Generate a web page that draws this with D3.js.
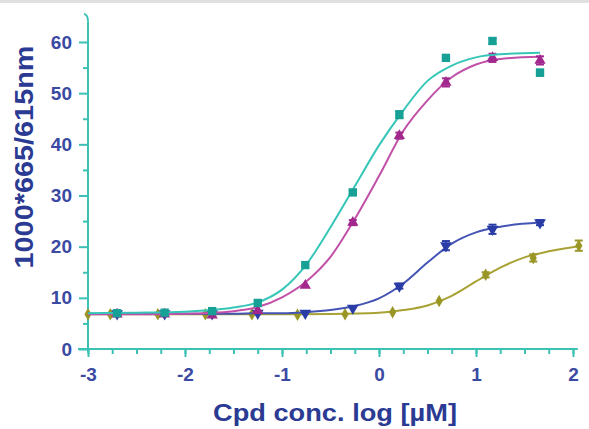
<!DOCTYPE html>
<html>
<head>
<meta charset="utf-8">
<script src="https://cdn.jsdelivr.net/npm/d3@7"></script>
<style>
    body { margin: 0; background: #fff; }
    svg { display: block; }
    text { font-family: "Liberation Sans", Arial, sans-serif; }
</style>
</head>
<body>
<div class="chart"></div>
<script>
// log concentrations (µM) of the dilution series
const concLog = [-2.70, -2.21, -1.72, -1.25, -0.76, -0.27, 0.21, 0.69, 1.17, 1.66];
const oliveConc = [-3.0, -2.77, -2.28, -1.79, -1.31, -0.84, -0.35, 0.14, 0.62, 1.10, 1.59, 2.06];

// measured points (1000*665/615nm)
const tealValues = [7.0, 7.1, 7.4, 9.0, 16.4, 30.6, 45.8, 56.9, 60.2, 54.0];
const tealErr = [0, 0, 0, 0, 0, 0.4, 0.7, 0, 0.5, 0.6];
const magentaValues = [6.8, 6.8, 6.6, 7.5, 12.4, 24.7, 41.7, 52.1, 56.9, 56.4];
const magentaErr = [0, 0, 0, 0, 0, 0.5, 0.6, 0.8, 0.8, 0.8];
const blueValues = [6.9, 6.9, 6.9, 7.0, 7.0, 8.0, 12.3, 20.2, 23.4, 24.7];
const blueErr = [0, 0, 0, 0, 0, 0, 0.5, 0.9, 0.9, 0.5];
const oliveValues = [6.8, 6.8, 6.8, 6.8, 6.8, 6.7, 6.8, 7.2, 9.4, 14.5, 17.8, 20.2];
const oliveErr = [0, 0, 0, 0, 0, 0, 0, 0, 0, 0.5, 0.7, 1.0];

// fitted curves
const fitX = [-3, -2.5, -2, -1.5, -1.25, -1, -0.75, -0.5, -0.25, 0, 0.25, 0.5, 0.75, 1, 1.25, 1.66];
const tealFit = [7.0, 7.1, 7.3, 8.1, 9.1, 11.6, 16.5, 23.8, 31.8, 39.8, 46.6, 52.4, 55.4, 57.0, 57.6, 57.9];
const magentaFit = [6.8, 6.8, 6.9, 7.4, 8.2, 10.1, 13.2, 18.0, 25.4, 33.8, 42.6, 48.6, 53.1, 55.6, 56.7, 57.1];
const blueFit = [6.9, 6.9, 6.9, 6.9, 7.0, 7.0, 7.2, 7.6, 8.4, 9.9, 12.8, 16.9, 20.6, 22.8, 23.9, 24.7];
const oliveFitX = [-3, -2, -1, -0.5, 0, 0.25, 0.5, 0.75, 1, 1.25, 1.5, 1.75, 2.06];
const oliveFit = [6.8, 6.8, 6.8, 6.85, 7.1, 7.6, 8.5, 10.4, 13.2, 15.9, 17.9, 19.1, 20.1];

// axis ticks
const xTicks = [-3, -2, -1, 0, 1, 2];
const xTickLabels = ["-3", "-2", "-1", "0", "1", "2"];
const xMinorTicks = d3.range(-3, 2.01, 0.25);
const yTicks = [0, 10, 20, 30, 40, 50, 60];
const yTickLabels = ["0", "10", "20", "30", "40", "50", "60"];
const yMinorTicks = [5, 15, 25, 35, 45, 55];

const xTitle = "Cpd conc. log [µM]";
const yTitle = "1000*665/615nm";

const WIDTH = 589, HEIGHT = 429;
const AXIS_COLOR = "#3cc2b4";
const TEXT_COLOR = "#2b3a92";

const svg = d3.select(".chart").append("svg")
    .attr("width", WIDTH)
    .attr("height", HEIGHT);

svg.append("rect").attr("width", WIDTH).attr("height", HEIGHT).attr("fill", "#fff");
// faint grey strip at the top edge
svg.append("rect").attr("width", WIDTH).attr("height", 3).attr("fill", "#e0e0e0");

const xScale = d3.scaleLinear().domain([-3, 2]).range([88, 573]);
const yScale = d3.scaleLinear().domain([0, 60]).range([349, 42]);

// axes
const yAxis = svg.append("g")
    .attr("transform", `translate(${xScale(-3)},0)`)
    .call(d3.axisLeft(yScale).tickValues(yTicks).tickSize(9).tickPadding(7)
        .tickFormat((d, i) => yTickLabels[i]));
const yMinor = svg.append("g")
    .attr("transform", `translate(${xScale(-3)},0)`)
    .call(d3.axisLeft(yScale).tickValues(yMinorTicks).tickSize(5).tickFormat(""));

const xAxis = svg.append("g")
    .attr("transform", `translate(0,${yScale(0)})`)
    .call(d3.axisBottom(xScale).tickValues(xTicks).tickSize(8).tickPadding(11)
        .tickFormat((d, i) => xTickLabels[i]));
const xMinor = svg.append("g")
    .attr("transform", `translate(0,${yScale(0)})`)
    .call(d3.axisBottom(xScale).tickValues(xMinorTicks).tickSize(5).tickFormat(""));

[yAxis, yMinor, xAxis, xMinor].forEach(g => {
    g.select(".domain").remove();
    g.selectAll(".tick line").attr("stroke", AXIS_COLOR).attr("stroke-width", 2);
    g.selectAll(".tick text")
        .attr("fill", "#3a4aa2")
        .attr("font-size", 19)
        .attr("font-weight", "bold");
});

// axis lines
svg.append("line")
    .attr("x1", xScale(-3)).attr("x2", xScale(-3))
    .attr("y1", yScale(64)).attr("y2", yScale(-0.7))
    .attr("stroke", AXIS_COLOR).attr("stroke-width", 2);
svg.append("path")
    .attr("d", `M${xScale(-3)},${yScale(64)} Q${xScale(-3)},${yScale(65.3)} ${xScale(-3) - 4},${yScale(65.5)}`)
    .attr("fill", "none").attr("stroke", AXIS_COLOR).attr("stroke-width", 2);
svg.append("line")
    .attr("x1", xScale(-3) - 10).attr("x2", xScale(2.05))
    .attr("y1", yScale(0)).attr("y2", yScale(0))
    .attr("stroke", AXIS_COLOR).attr("stroke-width", 2);

// titles
svg.append("text")
    .attr("x", 335).attr("y", 421)
    .attr("text-anchor", "middle")
    .attr("font-size", 24).attr("font-weight", "bold")
    .attr("fill", TEXT_COLOR)
    .attr("textLength", 244).attr("lengthAdjust", "spacingAndGlyphs")
    .text(xTitle);

svg.append("text")
    .attr("transform", "translate(33,157) rotate(-90)")
    .attr("text-anchor", "middle")
    .attr("font-size", 26).attr("font-weight", "bold")
    .attr("fill", TEXT_COLOR)
    .attr("textLength", 223).attr("lengthAdjust", "spacingAndGlyphs")
    .text(yTitle);

// series
const series = [
    { name: "olive", x: oliveConc, y: oliveValues, err: oliveErr, fitX: oliveFitX, fit: oliveFit,
      line: "#a8a234", marker: "#9a9626", symbol: d3.symbolDiamond, size: 45, rotate: 0 },
    { name: "blue", x: concLog, y: blueValues, err: blueErr, fitX: fitX, fit: blueFit,
      line: "#4454b4", marker: "#2a3ca6", symbol: d3.symbolTriangle, size: 60, rotate: 180 },
    { name: "magenta", x: concLog, y: magentaValues, err: magentaErr, fitX: fitX, fit: magentaFit,
      line: "#c050a8", marker: "#a2288e", symbol: d3.symbolTriangle, size: 55, rotate: 0 },
    { name: "teal", x: concLog, y: tealValues, err: tealErr, fitX: fitX, fit: tealFit,
      line: "#36c6b8", marker: "#17a096", symbol: d3.symbolSquare, size: 70, rotate: 0 }
];

const line = d3.line()
    .x(d => xScale(d[0]))
    .y(d => yScale(d[1]))
    .curve(d3.curveMonotoneX);

series.forEach(s => {
    const g = svg.append("g").attr("class", s.name);

    g.append("path")
        .datum(s.fitX.map((x, i) => [x, s.fit[i]]))
        .attr("fill", "none")
        .attr("stroke", s.line)
        .attr("stroke-width", 2)
        .attr("d", line);

    const pts = s.x.map((x, i) => ({ x: x, y: s.y[i], e: s.err[i] }));

    // error bars
    const eb = g.selectAll(".err").data(pts.filter(p => p.e > 0)).enter().append("g").attr("class", "err");
    eb.append("line")
        .attr("x1", d => xScale(d.x)).attr("x2", d => xScale(d.x))
        .attr("y1", d => yScale(d.y - d.e)).attr("y2", d => yScale(d.y + d.e))
        .attr("stroke", s.marker).attr("stroke-width", 1.5);
    [-1, 1].forEach(sign => {
        eb.append("line")
            .attr("x1", d => xScale(d.x) - 4).attr("x2", d => xScale(d.x) + 4)
            .attr("y1", d => yScale(d.y + sign * d.e)).attr("y2", d => yScale(d.y + sign * d.e))
            .attr("stroke", s.marker).attr("stroke-width", 2);
    });

    g.selectAll(".dot")
        .data(pts)
        .enter().append("path")
        .attr("class", "dot")
        .attr("d", d3.symbol().type(s.symbol).size(s.size))
        .attr("transform", d => `translate(${xScale(d.x)},${yScale(d.y)}) rotate(${s.rotate})`)
        .attr("fill", s.marker);
});
</script>
</body>
</html>
